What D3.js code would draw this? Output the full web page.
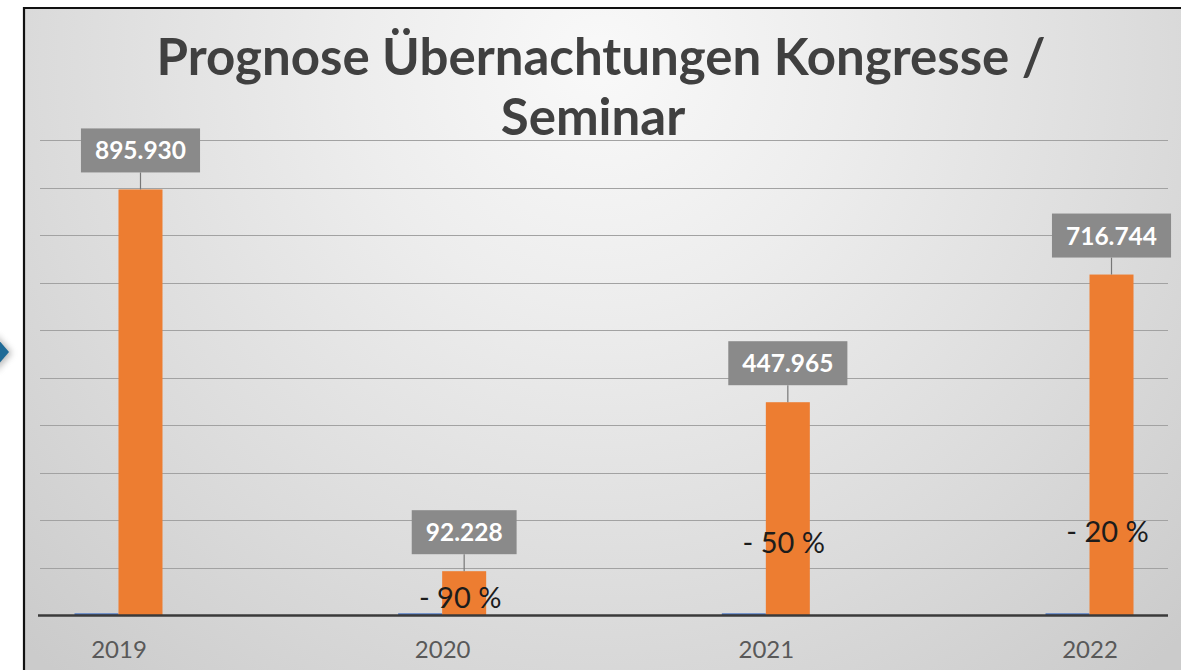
<!DOCTYPE html>
<html>
<head>
<meta charset="utf-8">
<script src="https://cdn.jsdelivr.net/npm/d3@7"></script>
<style>
  html, body { margin: 0; padding: 0; background: #ffffff; overflow: hidden; }
  svg { display: block; }
</style>
</head>
<body>
<svg id="chart"></svg>
<script>
const years = ['2019', '2020', '2021', '2022'];
const overnightStays = [895930, 92228, 447965, 716744];
const minorSeries = [3500, 3500, 3500, 3500];
const changeLabels = ['', '- 90 %', '- 50 %', '- 20 %'];
// value level the hand placed percent notes sit on
const changeAnchor = [0, 15000, 130000, 153000];
const titleLines = ['Prognose Übernachtungen Kongresse /', 'Seminar'];

const width = 1181, height = 670;
const plot = { left: 40, right: 1168, top: 140, bottom: 615 };

const svg = d3.select('#chart')
    .attr('width', width)
    .attr('height', height);

const defs = svg.append('defs');
const grad = defs.append('radialGradient')
    .attr('id', 'bg')
    .attr('gradientUnits', 'userSpaceOnUse')
    .attr('cx', 600).attr('cy', 60).attr('r', 820);
grad.append('stop').attr('offset', 0).attr('stop-color', '#f9f9f9');
grad.append('stop').attr('offset', 0.3).attr('stop-color', '#ededed');
grad.append('stop').attr('offset', 0.68).attr('stop-color', '#dbdbdb');
grad.append('stop').attr('offset', 1).attr('stop-color', '#cbcbcb');

const blur = defs.append('filter').attr('id', 'soft')
    .attr('x', '-50%').attr('y', '-50%').attr('width', '200%').attr('height', '200%');
blur.append('feGaussianBlur').attr('stdDeviation', 3);

// bit of the slide arrow peeking out on the left
svg.append('path')
    .attr('d', 'M-4,334 L12,353 L-4,372 Z')
    .attr('fill', '#777')
    .attr('opacity', 0.5)
    .attr('filter', 'url(#soft)');
svg.append('path')
    .attr('d', 'M-4,337 L9,352 L-4,367 Z')
    .attr('fill', '#1f6b97');

// chart panel with frame on top and left
svg.append('rect')
    .attr('x', 23).attr('y', 7)
    .attr('width', width).attr('height', height)
    .attr('fill', 'url(#bg)');
svg.append('path')
    .attr('d', `M24,${height} V8 H${width}`)
    .attr('fill', 'none')
    .attr('stroke', '#111')
    .attr('stroke-width', 2.2);

// title
svg.append('text')
    .attr('text-anchor', 'middle')
    .style('font-family', 'Lato, "Open Sans", sans-serif')
    .style('font-weight', 700)
    .style('font-size', '51px')
    .attr('fill', '#404040')
    .selectAll('tspan')
    .data(titleLines)
    .join('tspan')
    .attr('x', (d, i) => i ? 593 : 601)
    .attr('y', (d, i) => 75 + i * 60)
    .text(d => d);

const x = d3.scalePoint()
    .domain(years)
    .range([plot.left, plot.right])
    .padding(0.2425);

const barW = 44;
const xSub = d3.scaleBand()
    .domain(['minor', 'stays'])
    .range([-barW, barW])
    .padding(0);

const y = d3.scaleLinear()
    .domain([0, 1000000])
    .range([plot.bottom, plot.top]);

// gridlines
svg.append('g')
    .selectAll('line')
    .data(y.ticks(10).filter(d => d > 0))
    .join('line')
    .attr('x1', plot.left)
    .attr('x2', plot.right)
    .attr('y1', d => Math.round(y(d)) + 0.5)
    .attr('y2', d => Math.round(y(d)) + 0.5)
    .attr('stroke', '#a2a2a2')
    .attr('stroke-width', 1.2);

const rows = years.map((yr, i) => ({
    year: yr,
    minor: minorSeries[i],
    stays: overnightStays[i],
    change: changeLabels[i],
    anchor: changeAnchor[i]
}));

const groups = svg.append('g')
    .selectAll('g')
    .data(rows)
    .join('g')
    .attr('transform', d => `translate(${x(d.year)},0)`);

groups.append('rect')
    .attr('x', xSub('minor'))
    .attr('width', xSub.bandwidth())
    .attr('y', d => y(d.minor))
    .attr('height', d => y(0) - y(d.minor))
    .attr('fill', '#4472c4');

groups.append('rect')
    .attr('x', xSub('stays'))
    .attr('width', xSub.bandwidth())
    .attr('y', d => y(d.stays))
    .attr('height', d => y(0) - y(d.stays))
    .attr('fill', '#ed7d31');

// category axis
const xAxis = d3.axisBottom(x).tickSize(0).tickPadding(26);
const axisG = svg.append('g')
    .attr('transform', `translate(0,${plot.bottom})`)
    .call(xAxis);
axisG.select('.domain')
    .attr('d', `M${plot.left - 2},0.5H${plot.right}`)
    .attr('stroke', '#3a3a3a')
    .attr('stroke-width', 2.6);
axisG.selectAll('text')
    .style('font-family', 'Lato, "Open Sans", sans-serif')
    .style('font-size', '24px')
    .attr('fill', '#595959');

// data labels in grey callout boxes
const de = d3.formatLocale({ decimal: ',', thousands: '.', grouping: [3], currency: ['', ' €'] });
const fmt = de.format(',d');

const labels = groups.append('g')
    .attr('transform', d => `translate(${xSub('stays') + xSub.bandwidth() / 2},${y(d.stays) - 17})`);

labels.append('line')
    .attr('x1', 0).attr('x2', 0)
    .attr('y1', 0).attr('y2', 17)
    .attr('stroke', '#777')
    .attr('stroke-width', 1.2);

labels.append('rect')
    .attr('fill', '#8a8a8a');

const labelText = labels.append('text')
    .attr('text-anchor', 'middle')
    .attr('y', -13)
    .style('font-family', 'Lato, "Open Sans", sans-serif')
    .style('font-weight', 700)
    .style('font-size', '24.5px')
    .attr('fill', '#ffffff')
    .text(d => fmt(d.stays));

labelText.each(function () {
    const w = this.getComputedTextLength();
    d3.select(this.parentNode).select('rect')
        .attr('x', -w / 2 - 14)
        .attr('width', w + 28)
        .attr('y', -44)
        .attr('height', 44);
});

// percent change notes
groups.filter(d => d.change)
    .append('text')
    .attr('x', xSub('stays') + xSub.bandwidth() / 2 - 4)
    .attr('y', d => y(d.anchor))
    .attr('text-anchor', 'middle')
    .style('font-family', 'Lato, "Open Sans", sans-serif')
    .style('font-size', '29px')
    .attr('fill', '#1c1c1c')
    .text(d => d.change);
</script>
</body>
</html>
